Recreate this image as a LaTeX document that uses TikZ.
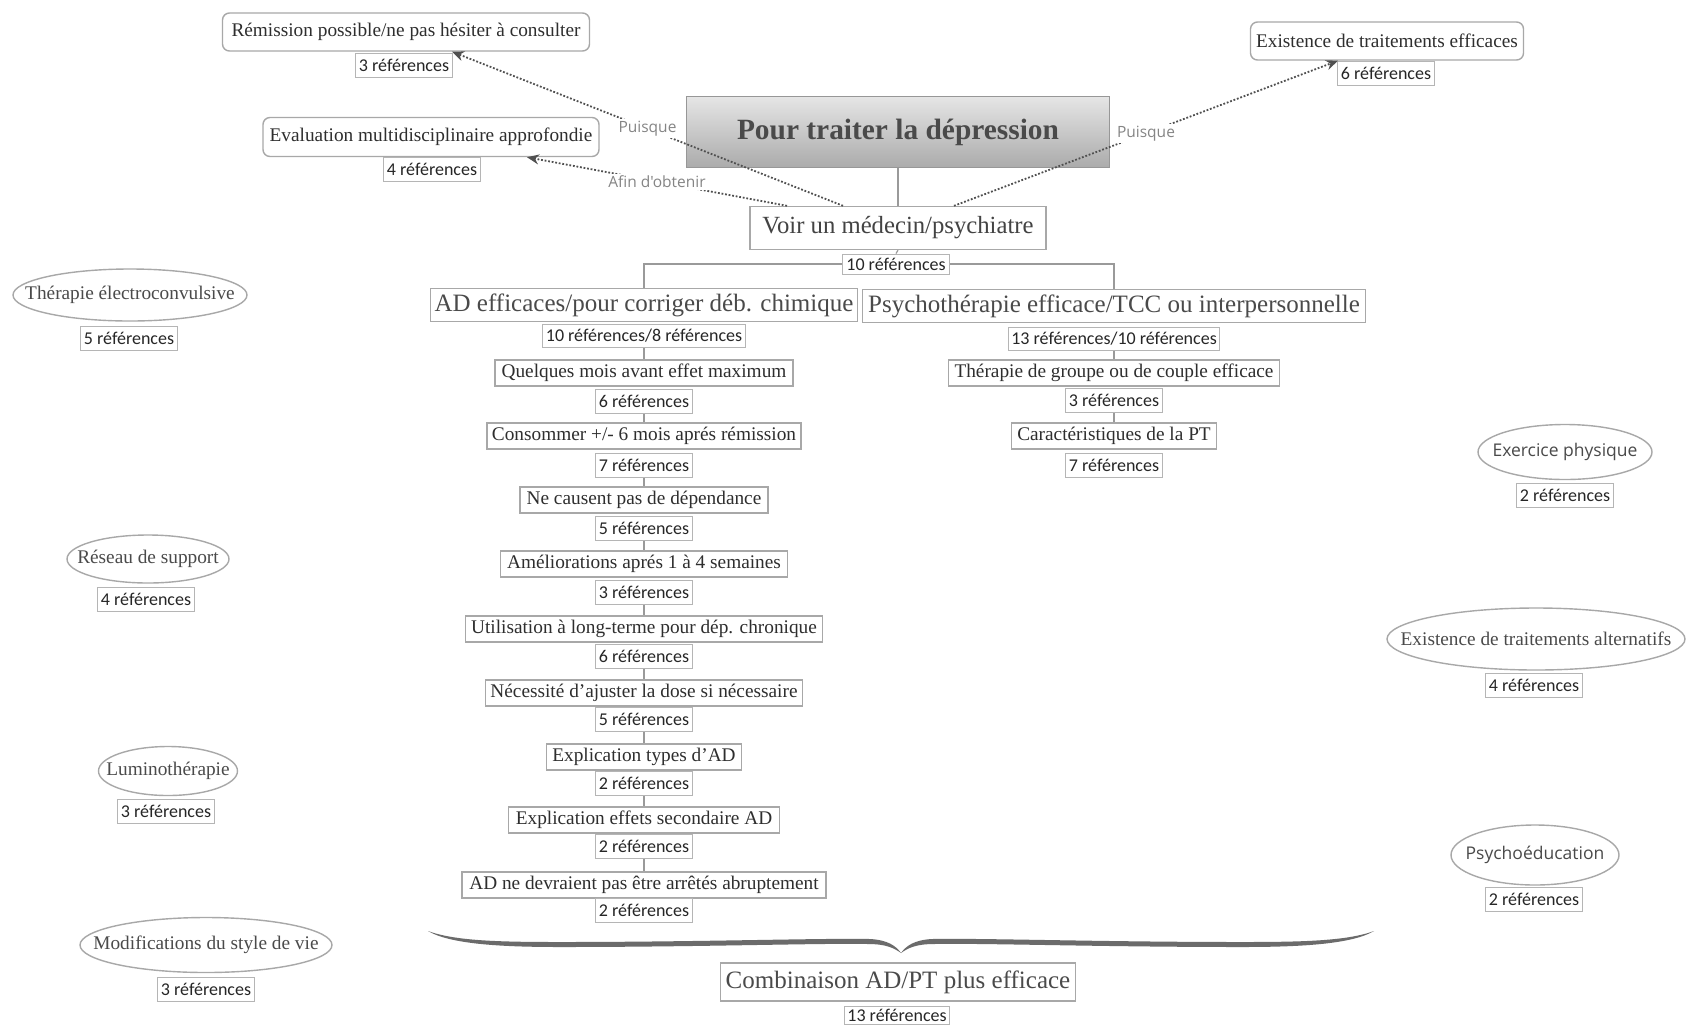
\documentclass[tikz,border=0pt]{standalone}
\usepackage{fontspec}
\setmainfont{Liberation Serif}
\newfontfamily\lblfont{Carlito}
\newfontfamily\osfont{Open Sans}
\usetikzlibrary{shapes.geometric,arrows.meta,calc,backgrounds}
\definecolor{bord}{HTML}{A8A8A8}
\definecolor{txt}{HTML}{2E2E2E}
\definecolor{txtb}{HTML}{4A4A4A}
\definecolor{dotc}{HTML}{505050}
\definecolor{lblc}{HTML}{858585}
\definecolor{linec}{HTML}{9A9A9A}
\tikzset{
 sbox/.style={draw=bord, fill=white, text=txt, font=\fontsize{9.65pt}{11pt}\selectfont, inner xsep=2pt, inner ysep=0pt, minimum height=13pt, line width=0.7pt},
 rbox/.style={sbox, rounded corners=3.5pt, minimum height=19pt},
 lbox/.style={draw=bord, fill=white, text=txtb, font=\fontsize{12.5pt}{14pt}\selectfont, inner xsep=2pt, inner ysep=0pt, minimum height=16.5pt, line width=0.7pt},
 refl/.style={draw=bord!85, fill=white, text=black!85, font=\lblfont\fontsize{9pt}{10pt}\selectfont, inner xsep=1.5pt, inner ysep=0pt, minimum height=12pt, minimum width=48.5pt, line width=0.5pt},
 ell/.style={ellipse, draw=bord, fill=white, text=txtb, font=\fontsize{9.65pt}{11pt}\selectfont, inner sep=0pt, line width=0.7pt},
 sell/.style={ell, font=\osfont\fontsize{8.75pt}{10pt}\selectfont},
 conn/.style={draw=linec, line width=0.6pt},
 dotarr/.style={draw=dotc, line width=0.9pt, dash pattern=on 0.9pt off 0.9pt, -{Stealth[length=6pt,width=5pt]}},
 clabel/.style={fill=white, text=lblc, font=\osfont\fontsize{7.75pt}{9pt}\selectfont, inner sep=1pt},
}
\begin{document}
\begin{tikzpicture}[x=0.5pt,y=-0.5pt]
\begin{scope}[on background layer]
\fill[white] (0,0) rectangle (1687,1024);
\end{scope}
\useasboundingbox (0,0) rectangle (1687,1024);

% top nodes
\node[draw=bord!90!black, top color=black!10, bottom color=black!33, text=txtb, font=\fontsize{14.7pt}{17pt}\selectfont\bfseries, minimum width=211.5pt, minimum height=35.5pt, inner sep=0pt, line width=0.7pt] (title) at (898,132) {Pour traiter la dépression};
\node[lbox, text=txt!90, font=\fontsize{12.35pt}{14pt}\selectfont, minimum width=148pt, minimum height=21.5pt] (voir) at (898,228) {Voir un médecin/psychiatre};
\node[refl, minimum width=53.5pt, minimum height=10pt] (vr) at (896,264) {10 références};

\node[rbox, minimum width=183.5pt] (rem) at (406,32) {Rémission possible/ne pas hésiter à consulter};
\node[refl] (remr) at (404,65) {3 références};
\node[rbox, minimum width=168pt, minimum height=19.5pt] (eva) at (431,137) {Evaluation multidisciplinaire approfondie};
\node[refl] (evar) at (432,169) {4 références};
\node[rbox, minimum width=136.5pt] (ext) at (1387,41) {Existence de traitements efficaces};
\node[refl] (extr) at (1386,73) {6 références};

% level 2
\node[lbox, minimum width=213pt] (ad) at (644,305) {AD efficaces/pour corriger déb. chimique};
\node[refl, minimum width=100pt, minimum height=11.5pt] (adr) at (644,336) {10 références/8 références};
\node[lbox, minimum width=251.5pt] (psy) at (1114,306) {Psychothérapie efficace/TCC ou interpersonnelle};
\node[refl, minimum width=105pt, minimum height=11.5pt] (psyr) at (1114,339) {13 références/10 références};

% left column
\node[sbox, minimum width=149pt] (q1) at (644,373) {Quelques mois avant effet maximum};
\node[refl] (q1r) at (644,401) {6 références};
\node[sbox, minimum width=157pt] (q2) at (644,436) {Consommer +/- 6 mois aprés rémission};
\node[refl] (q2r) at (644,465) {7 références};
\node[sbox, minimum width=124pt] (q3) at (644,500) {Ne causent pas de dépendance};
\node[refl] (q3r) at (644,528) {5 références};
\node[sbox, minimum width=143.5pt] (q4) at (644,564) {Améliorations aprés 1 à 4 semaines};
\node[refl] (q4r) at (644,592) {3 références};
\node[sbox, minimum width=178.5pt] (q5) at (644,629) {Utilisation à long-terme pour dép. chronique};
\node[refl] (q5r) at (644,656) {6 références};
\node[sbox, minimum width=158.5pt] (q6) at (644,693) {Nécessité d'ajuster la dose si nécessaire};
\node[refl] (q6r) at (644,719) {5 références};
\node[sbox, minimum width=97.5pt] (q7) at (644,757) {Explication types d'AD};
\node[refl] (q7r) at (644,783) {2 références};
\node[sbox, minimum width=135.5pt] (q8) at (644,820) {Explication effets secondaire AD};
\node[refl] (q8r) at (644,846) {2 références};
\node[sbox, minimum width=182pt] (q9) at (644,885) {AD ne devraient pas être arrêtés abruptement};
\node[refl] (q9r) at (644,910) {2 références};

% right column
\node[sbox, minimum width=165.5pt] (p1) at (1114,373) {Thérapie de groupe ou de couple efficace};
\node[refl] (p1r) at (1114,400) {3 références};
\node[sbox, minimum width=102.5pt] (p2) at (1114,436) {Caractéristiques de la PT};
\node[refl] (p2r) at (1114,465) {7 références};

% ellipses left
\node[ell, minimum width=117pt, minimum height=26pt] (ete) at (130,295) {\makebox[0pt]{Thérapie électroconvulsive}};
\node[refl] (eter) at (129,338) {5 références};
\node[ell, minimum width=81pt, minimum height=24pt] (res) at (148,559) {\makebox[0pt]{Réseau de support}};
\node[refl] (resr) at (146,599) {4 références};
\node[ell, minimum width=69.5pt, minimum height=24.5pt] (lum) at (168,771) {\makebox[0pt]{Luminothérapie}};
\node[refl] (lumr) at (166,811) {3 références};
\node[ell, minimum width=126pt, minimum height=27.5pt] (mod) at (206,945) {\makebox[0pt]{Modifications du style de vie}};
\node[refl] (modr) at (206,989) {3 références};

% ellipses right
\node[sell, minimum width=87pt, minimum height=27.5pt] (exo) at (1565,452) {\makebox[0pt]{Exercice physique}};
\node[refl] (exor) at (1565,495) {2 références};
\node[ell, minimum width=149pt, minimum height=31pt] (alt) at (1536,639) {\makebox[0pt]{Existence de traitements alternatifs}};
\node[refl] (altr) at (1534,685) {4 références};
\node[sell, minimum width=84pt, minimum height=30pt] (psed) at (1535,855) {\makebox[0pt]{Psychoéducation}};
\node[refl] (psedr) at (1534,899) {2 références};

% bottom
\node[lbox, text=txtb, minimum width=177.5pt, minimum height=19pt] (comb) at (898,982) {Combinaison AD/PT plus efficace};
\node[refl, minimum width=52.5pt, minimum height=9pt] (combr) at (897,1015) {13 références};

% brace
\fill[black!58] (428,931) .. controls (455,941) and (500,942) .. (560,942)
  .. controls (700,942) and (820,938) .. (870,939)
  .. controls (888,940) and (896,946) .. (901,953)
  .. controls (894,948) and (886,944) .. (868,944)
  .. controls (820,943) and (700,947) .. (560,947)
  .. controls (500,947) and (450,944) .. (428,931) -- cycle;
\fill[black!58] (1374,931) .. controls (1347,941) and (1302,942) .. (1242,942)
  .. controls (1102,942) and (982,938) .. (932,939)
  .. controls (914,940) and (906,946) .. (901,953)
  .. controls (908,948) and (916,944) .. (934,944)
  .. controls (982,943) and (1102,947) .. (1242,947)
  .. controls (1302,947) and (1352,944) .. (1374,931) -- cycle;

% solid connectors
\begin{scope}[on background layer]
\draw[conn] (title.south) -- (voir.north);
\draw[conn] (voir.south) -- (vr.north);
\draw[conn] (ad.north) |- (vr.center) -| (psy.north);
\draw[conn] (adr.south) -- (q1.north);
\draw[conn] (q1r.south) -- (q2.north);
\draw[conn] (q2r.south) -- (q3.north);
\draw[conn] (q3r.south) -- (q4.north);
\draw[conn] (q4r.south) -- (q5.north);
\draw[conn] (q5r.south) -- (q6.north);
\draw[conn] (q6r.south) -- (q7.north);
\draw[conn] (q7r.south) -- (q8.north);
\draw[conn] (q8r.south) -- (q9.north);
\draw[conn] (psyr.south) -- (p1.north);
\draw[conn] (p1r.south) -- (p2.north);
\end{scope}

% dotted relation arrows
\draw[dotarr] ($(voir.north)+(-55,0)$) -- node[clabel]{Puisque} ($(rem.south)+(46,0)$);
\draw[dotarr] ($(voir.north)+(-111,0)$) -- node[clabel]{Afin d'obtenir} ($(eva.south)+(96,0)$);
\draw[dotarr] ($(voir.north)+(56,0)$) -- node[clabel]{Puisque} ($(ext.south)+(-49,0)$);
\end{tikzpicture}
\end{document}
